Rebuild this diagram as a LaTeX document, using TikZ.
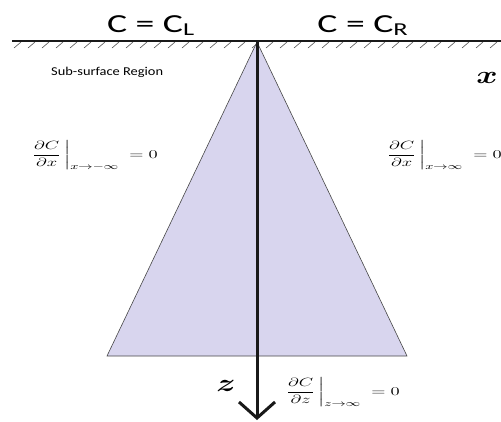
\documentclass[tikz,border=0pt]{standalone}
\usepackage{amsmath}
\usepackage{fontspec}
\setsansfont{Carlito}
\usetikzlibrary{arrows.meta}
\definecolor{lavender}{RGB}{216,213,238}
\definecolor{ink}{RGB}{25,25,25}

\begin{document}
\begin{tikzpicture}[x=1pt,y=-1pt,
    head/.style={font=\sffamily\fontsize{26}{30}\selectfont,xscale=1.45,anchor=base},
    cond/.style={font=\fontsize{13}{15}\selectfont,xscale=1.55,anchor=base west},
    axlabel/.style={font=\fontsize{34}{38}\selectfont,xscale=1.3,anchor=base},
    hatch/.style={ink!75,line width=0.6pt}]
  \useasboundingbox (0,0) rectangle (501,421);
  \coordinate (surfL) at (12,41);
  \coordinate (surfR) at (501,41);
  \coordinate (apex) at (257,42);
  \coordinate (baseL) at (107,356);
  \coordinate (baseR) at (407,356);
  \coordinate (axisEnd) at (257,420);
  % region below the source
  \filldraw[fill=lavender,draw=ink!80,line width=0.6pt] (apex) -- (baseL) -- (baseR) -- cycle;
  % ground surface
  \draw[ink,line width=1.6pt] (surfL) -- (surfR);
  \foreach \i in {0,...,34}
    \draw[hatch] (\i*14+14,48) -- +(7,-6);
  \draw[ink,line width=3pt,-{Straight Barb[length=16pt,width=36pt]}] (apex) -- (axisEnd);
  \node[head] (cl) at (151,32) {C = C\textsubscript{L}};
  \node[head] (cr) at (363,32) {C = C\textsubscript{R}};
  \node[font=\sffamily\fontsize{12}{14}\selectfont,xscale=1.2,anchor=base west] (region) at (47,75) {Sub-surface Region};
  \node[axlabel] (xlab) at (487,83) {$\boldsymbol{x}$};
  \node[axlabel,font=\fontsize{28}{32}\selectfont] (zlab) at (226,391) {$\boldsymbol{z}$};
  \node[cond] (bcl) at (25,158) {$\left.\dfrac{\partial C}{\partial x}\,\right|_{x\to-\infty}\;=0$};
  \node[cond] (bcr) at (380,158) {$\left.\dfrac{\partial C}{\partial x}\,\right|_{x\to\infty}\;=0$};
  \node[cond] (bcb) at (279,395) {$\left.\dfrac{\partial C}{\partial z}\,\right|_{z\to\infty}\;=0$};
\end{tikzpicture}
\end{document}
